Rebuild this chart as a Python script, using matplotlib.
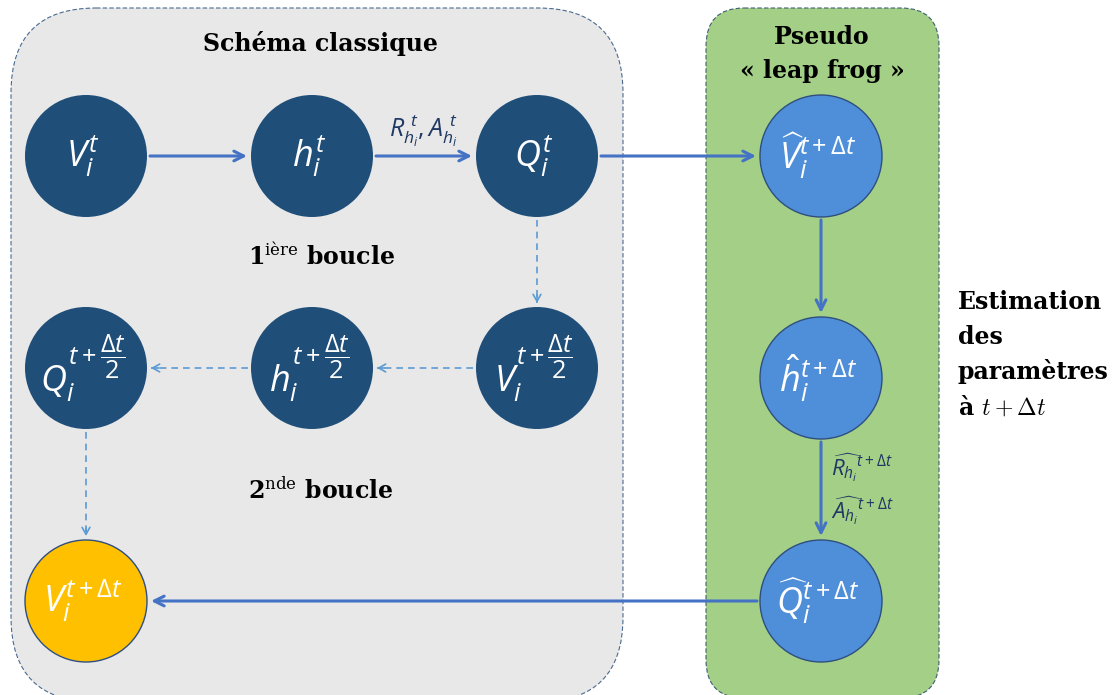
import matplotlib
matplotlib.use("Agg")
import numpy as np
import matplotlib.pyplot as plt
from matplotlib.patches import Circle, FancyBboxPatch

plt.rcParams['mathtext.fontset'] = 'custom'
plt.rcParams['mathtext.it'] = 'Open Sans:italic'
plt.rcParams['mathtext.rm'] = 'Open Sans'
plt.rcParams['mathtext.bf'] = 'Open Sans:bold'
plt.rcParams['mathtext.sf'] = 'Open Sans'

# ---------------- data ----------------
node_ids = ["V_t", "h_t", "Q_t", "V_half", "h_half", "Q_half", "V_next",
            "V_hat", "h_hat", "Q_hat"]
node_labels = [r"$V_i^t$", r"$h_i^t$", r"$Q_i^t$",
               r"$V_i^{t+\dfrac{\Delta t}{2}}$", r"$h_i^{t+\dfrac{\Delta t}{2}}$",
               r"$Q_i^{t+\dfrac{\Delta t}{2}}$",
               r"$V_i^{t+\Delta t}$",
               r"$\widehat{V}_i^{t+\Delta t}$", r"$\hat{h}_i^{t+\Delta t}$",
               r"$\widehat{Q}_i^{t+\Delta t}$"]
node_kinds = ["classic"] * 6 + ["result"] + ["estimate"] * 3

edge_src = ["V_t", "h_t", "Q_t", "Q_t", "V_half", "h_half", "Q_half", "V_hat", "h_hat", "Q_hat"]
edge_dst = ["h_t", "Q_t", "V_hat", "V_half", "h_half", "Q_half", "V_next", "h_hat", "Q_hat", "V_next"]
edge_kinds = ["solid", "solid", "solid", "dashed", "dashed", "dashed", "dashed",
              "solid", "solid", "solid"]

edge_label_top = r"$R_{h_i}^{\ t}, A_{h_i}^{\ t}$"
edge_labels_side = [r"$\widehat{R_{h_i}}^{t+\Delta t}$", r"$\widehat{A_{h_i}}^{t+\Delta t}$"]

group_titles = ["Schéma classique", "Pseudo", "« leap frog »"]
loop_number = ["1", "2"]
loop_suffix = ["ière", "nde"]
loop_word = "boucle"
side_note = ["Estimation", "des", "paramètres"]
side_note_last = ("à ", r"$t + \Delta t$")

# ---------------- layout (pixels) ----------------
pos = {
    "V_t": (86, 156), "h_t": (312, 156), "Q_t": (537, 156),
    "Q_half": (86, 368), "h_half": (312, 368), "V_half": (537, 368),
    "V_next": (86, 601),
    "V_hat": (821, 156), "h_hat": (821, 378), "Q_hat": (821, 601),
}
R = 61
colors = {"classic": "#1f4e79", "result": "#ffc000", "estimate": "#4f8fd9"}
edgecols = {"classic": "#1f4e79", "result": "#2f4f80", "estimate": "#2f4f80"}
solid_col = "#4472c4"
dash_col = "#5b9bd5"
serif = "DejaVu Serif"
fs_serif = 17

W, H = 1115, 695
fig = plt.figure(figsize=(W / 100, H / 100), dpi=100)
ax = fig.add_axes([0, 0, 1, 1])
ax.set_xlim(0, W)
ax.set_ylim(H, 0)
ax.axis("off")

# group boxes
gray = FancyBboxPatch((11, 8), 612, 694, boxstyle="round,pad=0,rounding_size=85",
                      fc="#e8e8e8", ec="#4a6a90", lw=0.8, ls=(0, (4, 2)), zorder=0)
green = FancyBboxPatch((706, 8), 233, 690, boxstyle="round,pad=0,rounding_size=38",
                       fc="#a3cf86", ec="#3f5f70", lw=0.8, ls=(0, (4, 2)), zorder=0)
ax.add_patch(gray)
ax.add_patch(green)

# nodes
for nid, lab, kind in zip(node_ids, node_labels, node_kinds):
    x, y = pos[nid]
    lw = 0 if kind == "classic" else 1.0
    ax.add_patch(Circle((x, y), R, fc=colors[kind], ec=edgecols[kind], lw=lw, zorder=2))
    ax.text(x - 3, y, lab, color="white", fontsize=26, ha="center", va="center",
            math_fontfamily="custom", zorder=3)

# edges
for s, d, k in zip(edge_src, edge_dst, edge_kinds):
    x0, y0 = pos[s]
    x1, y1 = pos[d]
    u = np.array([x1 - x0, y1 - y0], dtype=float)
    u /= np.hypot(*u)
    p0 = np.array([x0, y0]) + u * (R + 3)
    p1 = np.array([x1, y1]) - u * (R + 4)
    if k == "solid":
        ax.annotate("", xy=p1, xytext=p0,
                    arrowprops=dict(arrowstyle="->,head_length=0.7,head_width=0.35",
                                    color=solid_col, lw=2.2, shrinkA=0, shrinkB=0),
                    zorder=1)
    else:
        ax.plot([p0[0], p1[0]], [p0[1], p1[1]], color=dash_col, lw=1.2,
                ls=(0, (4, 3)), zorder=1)
        ax.annotate("", xy=p1, xytext=p1 - u * 8,
                    arrowprops=dict(arrowstyle="->,head_length=0.5,head_width=0.28",
                                    color=dash_col, lw=1.2, shrinkA=0, shrinkB=0),
                    zorder=1)

ax.text(423, 131, edge_label_top, color="#1f3864", fontsize=18, ha="center",
        va="center", math_fontfamily="custom")
ax.text(831, 468, edge_labels_side[0], color="#1f3864", fontsize=16, ha="left",
        va="center", math_fontfamily="custom")
ax.text(831, 511, edge_labels_side[1], color="#1f3864", fontsize=16, ha="left",
        va="center", math_fontfamily="custom")

# titles
ax.text(320, 44, group_titles[0], family=serif, weight="bold", fontsize=fs_serif,
        ha="center", va="center")
ax.text(822, 37, group_titles[1], family=serif, weight="bold", fontsize=fs_serif,
        ha="center", va="center")
ax.text(822, 71, group_titles[2], family=serif, weight="bold", fontsize=fs_serif,
        ha="center", va="center")

# loop labels
for num, suf, yy in zip(loop_number, loop_suffix, [256, 490]):
    ax.text(321, yy, r"$\mathbf{%s}^{\mathrm{%s}}$ %s" % (num, suf, loop_word),
            family=serif, weight="bold", fontsize=fs_serif, ha="center", va="center",
            math_fontfamily="dejavuserif")

# side note
for i, line in enumerate(side_note):
    ax.text(958, 302 + 35 * i, line, family=serif, weight="bold", fontsize=fs_serif,
            ha="left", va="center")
ax.text(958, 407, side_note_last[0] + side_note_last[1], family=serif, weight="bold",
        fontsize=fs_serif, ha="left", va="center", math_fontfamily="cm")

fig.savefig("out.png", dpi=100)
